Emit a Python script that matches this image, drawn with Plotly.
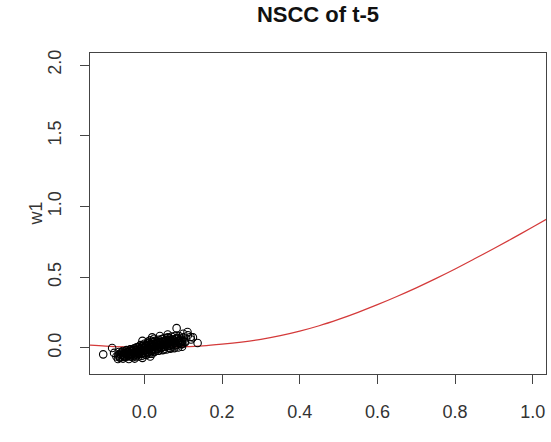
import plotly.graph_objects as go

title_text = "NSCC of t-5"
x_label = "t"
y_label = "w1"

x_tick_vals = [0.0, 0.2, 0.4, 0.6, 0.8, 1.0]
x_tick_text = ["0.0", "0.2", "0.4", "0.6", "0.8", "1.0"]
y_tick_vals = [0.0, 0.5, 1.0, 1.5, 2.0]
y_tick_text = ["0.0", "0.5", "1.0", "1.5", "2.0"]

# scatter points
pts_x = [-0.072, -0.066, -0.063, -0.058, -0.055, -0.050, -0.048, -0.045, -0.043, -0.040,
         -0.037, -0.035, -0.033, -0.030, -0.028, -0.025, -0.023, -0.020, -0.018, -0.015,
         -0.013, -0.010, -0.008, -0.005, -0.003, 0.000, 0.002, 0.004, 0.006, 0.008,
         0.010, 0.012, 0.014, 0.016, 0.018, 0.020, 0.022, 0.024, 0.026, 0.028,
         0.030, 0.032, 0.034, 0.036, 0.038, 0.040, 0.042, 0.044, 0.046, 0.048,
         0.050, 0.052, 0.054, 0.056, 0.058, 0.060, 0.062, 0.064, 0.066, 0.068,
         0.070, 0.072, 0.074, 0.077, 0.080, 0.083, 0.086, 0.089, 0.092, 0.095,
         0.098, 0.101, 0.104,
         -0.060, -0.052, -0.046, -0.041, -0.036, -0.032, -0.027, -0.022, -0.019, -0.016,
         -0.012, -0.009, -0.006, -0.002, 0.001, 0.003, 0.007, 0.011, 0.013, 0.017,
         0.019, 0.023, 0.025, 0.027, 0.031, 0.035, 0.039, 0.043, 0.047, 0.051,
         0.055, 0.059, 0.063, 0.067, 0.071, 0.075, 0.079, 0.085, 0.091, 0.097,
         0.000, -0.010, 0.010, -0.020, 0.015, 0.025, -0.030, -0.015, 0.005, 0.020,
         0.035, 0.050, 0.065,
         -0.106, -0.083, -0.078, -0.068, -0.055, -0.040, -0.025, -0.005, 0.015, 0.111,
         0.119, 0.112, 0.120, 0.137, 0.100, 0.083, 0.060, 0.040, 0.020, -0.005,
         0.125, 0.105, 0.095, 0.075,
         -0.063, -0.067, -0.062, -0.066, -0.053, -0.057, -0.052, -0.056,
         -0.043, -0.047, -0.042, -0.046, -0.033, -0.037, -0.032, -0.036,
         -0.023, -0.027, -0.022, -0.026, -0.013, -0.017, -0.012, -0.016,
         -0.003, -0.007, -0.002, -0.006, 0.007, 0.003, 0.008, 0.004,
         0.017, 0.013, 0.018, 0.014, 0.027, 0.023, 0.028, 0.024,
         0.037, 0.033, 0.038, 0.034, 0.047, 0.043, 0.048, 0.044,
         0.057, 0.053, 0.058, 0.054, 0.067, 0.063, 0.068, 0.064,
         0.077, 0.073, 0.078, 0.074, 0.087, 0.083, 0.088, 0.084,
         0.097, 0.093, 0.098, 0.094]
pts_y = [-0.060, -0.045, -0.068, -0.030, -0.055, -0.040, -0.065, -0.020, -0.048, -0.032,
         -0.060, -0.010, -0.042, -0.025, -0.055, -0.005, -0.035, -0.018, -0.050, 0.008,
         -0.028, -0.010, -0.042, 0.015, -0.020, 0.000, -0.035, 0.025, -0.012, 0.010,
         -0.028, 0.035, -0.005, 0.018, -0.020, 0.045, 0.005, 0.028, -0.012, 0.050,
         0.012, 0.035, -0.005, 0.058, 0.020, 0.042, 0.000, 0.062, 0.025, 0.048,
         0.008, 0.070, 0.032, 0.055, 0.012, 0.075, 0.038, 0.060, 0.018, 0.045,
         0.080, 0.025, 0.055, 0.035, 0.065, 0.020, 0.050, 0.085, 0.038, 0.060,
         0.028, 0.075, 0.045,
         -0.050, -0.060, -0.030, -0.052, -0.045, -0.015, -0.040, -0.060, -0.030, -0.040,
         -0.002, -0.030, -0.055, 0.005, -0.015, -0.048, 0.000, 0.020, -0.040, 0.030,
         -0.008, 0.040, 0.015, -0.025, 0.025, 0.045, 0.008, 0.030, 0.065, 0.040,
         0.020, 0.050, 0.070, 0.030, 0.060, 0.045, 0.085, 0.070, 0.055, 0.045,
         0.030, 0.020, 0.045, 0.005, 0.055, 0.065, -0.065, -0.060, -0.050, -0.040,
         -0.020, -0.010, 0.000,
         -0.045, 0.000, -0.035, -0.078, -0.075, -0.078, -0.075, -0.070, -0.060, 0.113,
         0.078, 0.090, 0.060, 0.035, 0.100, 0.140, 0.095, 0.085, 0.075, 0.050,
         0.075, 0.040, 0.025, 0.010,
         -0.065, -0.053, -0.040, -0.028, -0.060, -0.047, -0.034, -0.021,
         -0.056, -0.042, -0.029, -0.015, -0.051, -0.037, -0.023, -0.009,
         -0.047, -0.032, -0.017, -0.002, -0.042, -0.027, -0.012, 0.004,
         -0.038, -0.022, -0.006, 0.010, -0.033, -0.017, 0.000, 0.016,
         -0.028, -0.011, 0.006, 0.022, -0.024, -0.006, 0.011, 0.029,
         -0.019, -0.001, 0.017, 0.035, -0.015, 0.004, 0.023, 0.041,
         -0.010, 0.009, 0.028, 0.047, -0.005, 0.014, 0.034, 0.054,
         -0.001, 0.019, 0.040, 0.060, 0.004, 0.025, 0.045, 0.066,
         0.009, 0.030, 0.051, 0.072]

# fitted red curve
curve_x = [-0.140, -0.100, -0.050, 0.000, 0.050, 0.100, 0.150, 0.200, 0.250, 0.300,
           0.350, 0.400, 0.450, 0.500, 0.550, 0.600, 0.650, 0.700, 0.750, 0.800,
           0.850, 0.900, 0.950, 1.000, 1.040]
curve_y = [0.020, 0.013, 0.008, 0.006, 0.006, 0.009, 0.015, 0.027, 0.042, 0.061,
           0.087, 0.119, 0.157, 0.202, 0.252, 0.306, 0.364, 0.425, 0.490, 0.558,
           0.630, 0.703, 0.778, 0.855, 0.917]

fig = go.Figure()
fig.add_trace(go.Scatter(x=curve_x, y=curve_y, mode="lines", line_shape="spline",
                         line=dict(color="#d43a3a", width=1.2), showlegend=False))
fig.add_trace(go.Scatter(x=pts_x, y=pts_y, mode="markers", showlegend=False,
                         marker=dict(symbol="circle-open", size=7.5, color="black",
                                     line=dict(width=1.1, color="black"))))

font_family = "Liberation Sans, Arial, sans-serif"
axis_common = dict(showgrid=False, zeroline=False, showline=True, mirror=True,
                   linecolor="#444", linewidth=1, ticks="outside", ticklen=9,
                   tickcolor="#444", tickwidth=1,
                   tickfont=dict(family=font_family, size=18, color="#333"),
                   ticklabelstandoff=12)
fig.update_xaxes(range=[-0.140, 1.034], tickvals=x_tick_vals, ticktext=x_tick_text,
                 **axis_common)
fig.update_yaxes(range=[-0.184, 2.085], tickvals=y_tick_vals, ticktext=y_tick_text,
                 tickangle=-90, **axis_common)

fig.update_layout(
    width=551, height=442,
    margin=dict(l=90, r=5, t=53, b=68),
    plot_bgcolor="white", paper_bgcolor="white",
    title=dict(text="<b>" + title_text + "</b>", x=0.5, xref="paper",
               y=1 - 14 / 442, yref="container", yanchor="middle",
               font=dict(family=font_family, size=22, color="#111")),
    annotations=[
        dict(text=y_label, xref="paper", yref="paper", x=(35 - 90) / 456, y=0.5,
             xanchor="center", yanchor="middle", textangle=-90, showarrow=False,
             font=dict(family=font_family, size=18, color="#333")),
        dict(text=x_label, xref="paper", yref="paper", x=0.5, y=(374 - 436) / 321,
             xanchor="center", yanchor="top", showarrow=False,
             font=dict(family=font_family, size=18, color="#333")),
    ],
)

fig.write_html("out.html")
